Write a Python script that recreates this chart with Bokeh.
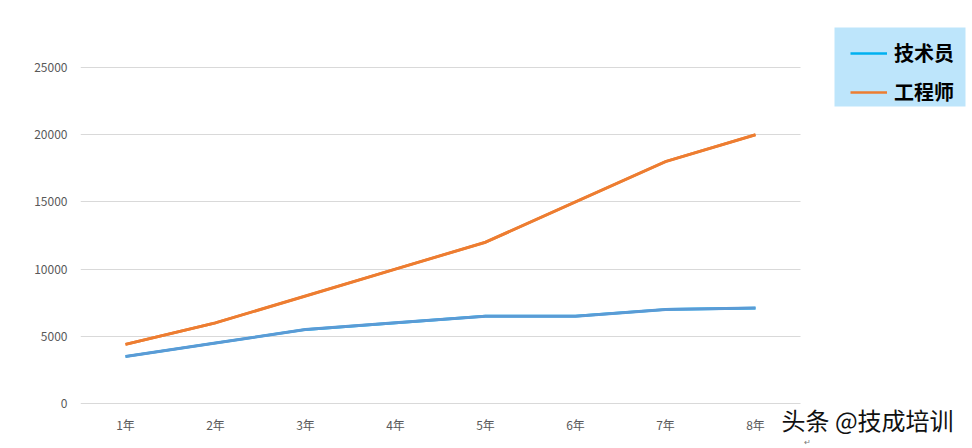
from bokeh.plotting import figure
from bokeh.models import Legend, LegendItem, Label, Range1d, FixedTicker, BoxAnnotation
from bokeh.embed import file_html
from bokeh.resources import INLINE

categories = ["1年", "2年", "3年", "4年", "5年", "6年", "7年", "8年"]
technician = [3500, 4500, 5500, 6000, 6500, 6500, 7000, 7100]
engineer = [4400, 6000, 8000, 10000, 12000, 15000, 18000, 20000]
y_ticks = [0, 5000, 10000, 15000, 20000, 25000]
series_names = ["技术员", "工程师"]
watermark = "头条 @技成培训"

# category slots on a numeric axis (slot centres), so the frame can extend right
x = [i + 0.5 for i in range(len(categories))]

p = figure(x_range=Range1d(0, 9.9111), y_range=Range1d(-3348, 29985), width=972, height=448,
           output_backend="svg", toolbar_location=None,
           min_border_left=80, min_border_right=0, min_border_top=0, min_border_bottom=0)
p.outline_line_color = None
p.background_fill_color = "white"
p.border_fill_color = "white"

p.xgrid.grid_line_color = None
p.ygrid.grid_line_color = "#D9D9D9"
p.ygrid.grid_line_width = 1
p.ygrid.cross_bounds = (0, len(categories))
p.yaxis.ticker = FixedTicker(ticks=y_ticks)
p.xaxis.ticker = FixedTicker(ticks=x)
p.xaxis.major_label_overrides = {xi: c for xi, c in zip(x, categories)}
p.xaxis.fixed_location = 0

for ax in (p.xaxis, p.yaxis):
    ax.axis_line_color = None
    ax.major_tick_line_color = None
    ax.minor_tick_line_color = None
    ax.major_tick_out = 0
    ax.major_tick_in = 0
    ax.minor_tick_out = 0
    ax.minor_tick_in = 0
    ax.major_label_text_color = "#595959"
    ax.major_label_text_font = "Noto Sans CJK SC"
    ax.major_label_text_font_size = "12px"
p.yaxis.major_label_standoff = 13
p.xaxis.major_label_standoff = 12

# legend-only lines (legend shows a brighter blue than the plotted line); hidden under the real lines
r_leg1 = p.line(x, technician, line_color="#00B0F0", line_width=2.6)
r_leg2 = p.line(x, engineer, line_color="#ED7D31", line_width=2.6)
p.line(x, technician, line_color="#5B9BD5", line_width=3)
p.line(x, engineer, line_color="#ED7D31", line_width=3)

# legend background panel
p.add_layout(BoxAnnotation(left=754, right=885, top=421, bottom=342,
                           left_units="screen", right_units="screen",
                           top_units="screen", bottom_units="screen",
                           fill_color="#BDE5FB", fill_alpha=1.0, line_color=None))

legend = Legend(items=[LegendItem(label=series_names[0], renderers=[r_leg1]),
                       LegendItem(label=series_names[1], renderers=[r_leg2])],
                location=(770, 342), orientation="vertical",
                background_fill_alpha=0.0, border_line_color=None,
                padding=0, spacing=10, margin=0,
                glyph_width=37, glyph_height=20, label_height=20, label_standoff=7,
                label_text_font="Noto Sans CJK SC", label_text_font_style="bold",
                label_text_font_size="20px", label_text_color="black")
p.add_layout(legend, "center")

p.add_layout(Label(x=701, y=29, x_units="screen", y_units="screen", text=watermark,
                   text_font="Noto Sans CJK SC", text_font_size="24px",
                   text_color="#111111", text_baseline="middle"))
p.add_layout(Label(x=723, y=7, x_units="screen", y_units="screen", text="↵",
                   text_font="Noto Sans CJK SC", text_font_size="8px",
                   text_color="#777777", text_baseline="middle"))

open("out.html", "w").write(file_html(p, INLINE))
